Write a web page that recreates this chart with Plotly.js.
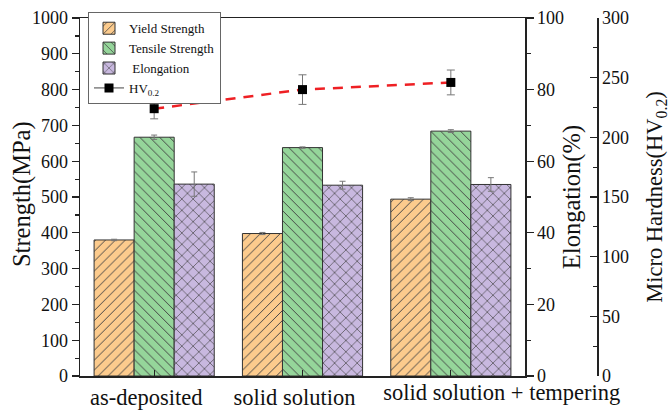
<!DOCTYPE html>
<html>
<head>
<meta charset="utf-8">
<script src="https://cdn.plot.ly/plotly-3.0.1.min.js"></script>
<style>html,body{margin:0;padding:0;background:#fff;}#chart{width:670px;height:417px;}</style>
</head>
<body>
<div id="chart"></div>
<script>
const categories = ["as-deposited", "solid solution", "solid solution + tempering"];
const yieldStrength = [380, 398, 494];
const yieldErr = [2, 3, 4];
const tensileStrength = [667, 638, 684];
const tensileErr = [6, 2, 4];
const elongation = [53.6, 53.3, 53.5];
const elongationErr = [3.4, 1.1, 1.9];
const hardness = [224, 240, 246];
const hardnessErr = [8.5, 12.4, 10.4];

const FONT = "Liberation Serif, Times New Roman, serif";
const LINE = "#222";
const ERR = {type: "data", visible: true, color: "#777", thickness: 1, width: 3};
const lastIdx = categories.length - 1;

const barW = 0.27;
const traces = [
  {type: "bar", name: "Yield Strength", x: categories, y: yieldStrength,
   error_y: Object.assign({array: yieldErr}, ERR),
   width: barW, offset: -1.5 * barW, yaxis: "y",
   marker: {color: "#FCCB8D", line: {color: "#333", width: 1},
            pattern: {shape: "/", fgcolor: "#444", bgcolor: "#FCCB8D", size: 7, solidity: 0.14}}},
  {type: "bar", name: "Tensile Strength", x: categories, y: tensileStrength,
   error_y: Object.assign({array: tensileErr}, ERR),
   width: barW, offset: -0.5 * barW, yaxis: "y",
   marker: {color: "#95D59A", line: {color: "#333", width: 1},
            pattern: {shape: "\\", fgcolor: "#444", bgcolor: "#95D59A", size: 7, solidity: 0.14}}},
  {type: "bar", name: " Elongation", x: categories, y: elongation,
   error_y: Object.assign({array: elongationErr}, ERR),
   width: barW, offset: 0.5 * barW, yaxis: "y2",
   marker: {color: "#C8B8DF", line: {color: "#333", width: 1},
            pattern: {shape: "x", fgcolor: "#444", bgcolor: "#C8B8DF", size: 8, solidity: 0.16}}},
  {type: "scatter", mode: "lines", x: categories, y: hardness, yaxis: "y3", showlegend: false,
   line: {color: "#EE2024", width: 2.5, dash: "10px,8px"}, hoverinfo: "skip"},
  {type: "scatter", mode: "markers", x: categories, y: hardness, yaxis: "y3", showlegend: false,
   error_y: Object.assign({array: hardnessErr}, ERR, {width: 4}),
   marker: {symbol: "square", color: "#000", size: 9}},
  {type: "scatter", mode: "lines+markers", name: "HV<sub>0.2</sub>", x: [null], y: [null], yaxis: "y3",
   line: {color: "#444", width: 1}, marker: {symbol: "square", color: "#000", size: 9}},
  {type: "scatter", mode: "markers", x: [null], y: [null], xaxis: "x2", yaxis: "y", showlegend: false}
];

const L = 80, PR = 600, T = 14, B = 376;
const dom = (525 - L) / (PR - L);
const pos3 = (597 - L) / (PR - L);

const layout = {
  width: 670, height: 417,
  margin: {l: L, r: 670 - PR, t: T, b: 417 - B},
  paper_bgcolor: "#fff", plot_bgcolor: "#fff",
  font: {family: FONT, color: "#111", size: 18},
  showlegend: true,
  legend: {x: (88 - L) / (PR - L), y: 1.016, xanchor: "left", yanchor: "top",
           bgcolor: "#fff", bordercolor: "#666", borderwidth: 1,
           font: {family: FONT, size: 13, color: "#111"}, traceorder: "normal", tracegroupgap: 0},
  xaxis: {domain: [0, dom], type: "category", range: [-0.5, 2.5],
          tickmode: "array", tickvals: categories, ticktext: [categories[0], categories[1], ""],
          tickangle: 0, ticklabelshift: -8,
          showline: true, mirror: true, linecolor: LINE, linewidth: 1.5,
          ticks: "inside", ticklen: 6, tickcolor: LINE, tickwidth: 1.2,
          tickfont: {family: FONT, size: 22.5, color: "#111"}, showgrid: false, zeroline: false},
  xaxis2: {overlaying: "x", anchor: "y", side: "bottom", domain: [0, dom], type: "linear", range: [-0.5, 2.5],
           tickmode: "array", tickvals: [lastIdx], ticktext: [categories[lastIdx]],
           tickangle: 0, ticklabelshift: 51, ticks: "", showline: false, showgrid: false, zeroline: false,
           tickfont: {family: FONT, size: 22.5, color: "#111"}},
  yaxis: {range: [0, 1000], dtick: 100, showline: true, linecolor: LINE, linewidth: 1.5,
          ticks: "outside", ticklen: 7, tickcolor: LINE, tickwidth: 1.2,
          minor: {dtick: 50, ticks: "outside", ticklen: 4, tickcolor: LINE},
          showgrid: false, zeroline: false, tickfont: {family: FONT, size: 18}},
  yaxis2: {overlaying: "y", side: "right", anchor: "x", range: [0, 100], dtick: 20,
           showline: true, linecolor: LINE, linewidth: 1.5,
           ticks: "outside", ticklen: 7, tickcolor: LINE, tickwidth: 1.2,
           minor: {dtick: 10, ticks: "outside", ticklen: 4, tickcolor: LINE},
           showgrid: false, zeroline: false, tickfont: {family: FONT, size: 18},
           title: {text: "Elongation(%)", font: {family: FONT, size: 24.5}, standoff: 0}},
  yaxis3: {overlaying: "y", side: "right", anchor: "free", position: pos3, range: [0, 300], dtick: 50,
           showline: true, linecolor: LINE, linewidth: 1.5,
           ticks: "inside", ticklen: 7, tickcolor: LINE, tickwidth: 1.2,
           minor: {dtick: 25, ticks: "inside", ticklen: 4, tickcolor: LINE},
           showgrid: false, zeroline: false, tickfont: {family: FONT, size: 18},
           title: {text: "Micro Hardness(HV<sub>0.2</sub>)", font: {family: FONT, size: 22.5}, standoff: 18}},
  annotations: [
    {text: "Strength(MPa)", xref: "paper", yref: "paper", x: (22 - L) / (PR - L), y: (B - 192) / (B - T),
     xanchor: "center", yanchor: "middle", textangle: -90, showarrow: false,
     font: {family: FONT, size: 24.5, color: "#111"}}
  ]
};

Plotly.newPlot("chart", traces, layout, {displayModeBar: false, staticPlot: true});
</script>
</body>
</html>
